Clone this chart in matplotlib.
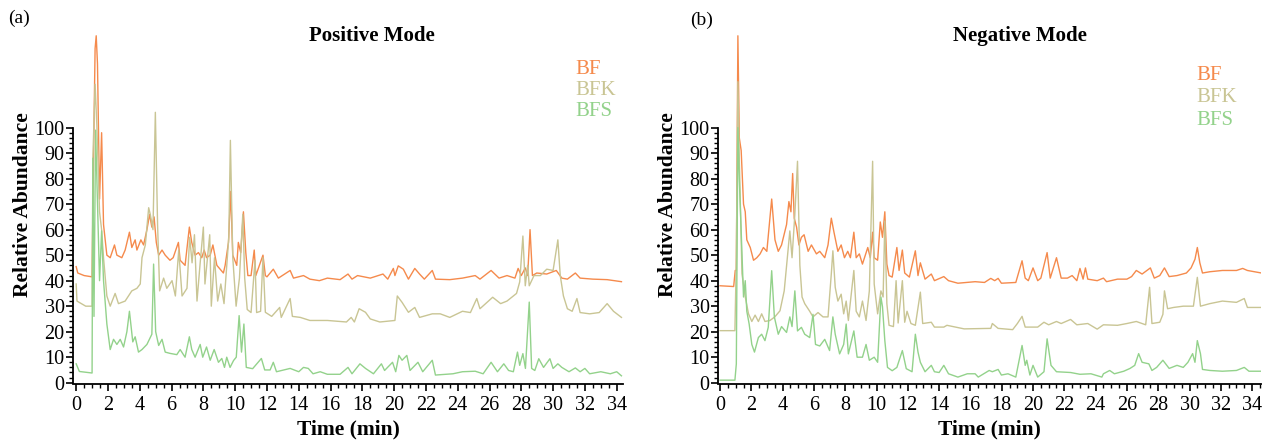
import numpy as np
import matplotlib
matplotlib.use('Agg')
import matplotlib.pyplot as plt
from matplotlib.ticker import FixedLocator

plt.rcParams['font.family'] = 'Liberation Serif'

# (time min, relative abundance)
pos_bf = [[0, 45.5], [0.1, 43], [0.5, 42], [1.0, 41.5], [1.09, 88], [1.19, 131], [1.26, 136], [1.34, 125],
          [1.47, 72], [1.6, 98], [1.72, 62], [1.93, 50], [2.14, 49], [2.41, 54], [2.56, 50], [2.87, 49],
          [3.08, 52], [3.35, 59], [3.5, 53], [3.71, 56], [3.82, 52], [4.07, 56], [4.24, 54], [4.45, 60],
          [4.62, 66], [4.76, 61], [4.9, 65], [5.04, 55], [5.19, 50], [5.4, 52], [5.6, 50], [5.9, 48],
          [6.1, 49], [6.43, 55], [6.54, 48], [6.85, 46], [7.12, 61], [7.27, 55], [7.48, 50], [7.69, 51],
          [7.9, 49], [8.05, 52], [8.2, 49], [8.43, 50], [8.6, 54], [8.85, 46], [9.26, 43], [9.37, 46],
          [9.58, 55], [9.72, 75], [9.85, 50], [10.1, 46], [10.2, 55], [10.35, 51], [10.52, 67], [10.67, 51],
          [10.8, 42], [11.0, 42], [11.2, 52], [11.3, 42], [11.75, 50], [11.9, 42], [12.0, 41.5], [12.4, 44.5],
          [12.72, 41], [13.46, 44], [13.67, 41], [14.3, 42], [14.7, 40.6], [15.3, 40], [15.8, 41],
          [16.6, 40.4], [17.1, 42.6], [17.35, 40.6], [17.7, 42], [18.5, 41], [19.3, 42.6], [19.6, 40.6],
          [19.95, 44.8], [20.05, 42], [20.26, 45.8], [20.58, 44.5], [20.9, 40.6], [21.3, 44.8], [21.6, 42.6],
          [21.9, 40.6], [22.4, 44], [22.6, 40.6], [23.5, 40.4], [24.3, 41], [25.1, 42], [25.4, 40.6],
          [26.1, 44], [26.6, 41], [27.1, 42], [27.6, 41], [27.8, 44.8], [28.0, 42], [28.25, 45], [28.4, 42],
          [28.55, 60], [28.7, 42], [28.97, 43], [29.6, 42.6], [30.2, 44], [30.55, 41], [30.9, 40.6],
          [31.4, 43], [31.7, 41], [32.5, 40.6], [33.4, 40.4], [34.3, 39.6]]

pos_bfk = [[0, 38.7], [0.05, 32], [0.6, 30], [1.0, 30], [1.05, 88], [1.19, 117], [1.3, 101], [1.47, 67],
           [1.6, 60], [1.72, 49], [1.93, 34], [2.14, 30], [2.45, 35], [2.66, 31], [3.08, 32], [3.5, 36],
           [3.82, 37], [4.03, 38.7], [4.14, 49], [4.35, 54], [4.56, 68.6], [4.66, 66], [4.83, 60], [4.98, 106],
           [5.12, 62], [5.25, 36], [5.5, 41], [5.7, 37], [6.03, 40], [6.24, 34], [6.45, 52], [6.66, 34],
           [6.97, 37], [7.14, 57], [7.29, 47], [7.44, 58], [7.6, 32], [7.8, 47], [8.0, 61], [8.1, 38.7],
           [8.4, 58], [8.5, 30], [8.7, 49], [8.9, 32], [9.1, 38.7], [9.3, 31], [9.6, 57], [9.7, 95],
           [9.85, 49], [10.06, 30], [10.27, 41], [10.48, 66], [10.6, 41], [10.76, 28.7], [11.0, 27.5],
           [11.25, 48], [11.35, 27.5], [11.6, 28], [11.75, 49], [11.9, 27.6], [12.3, 26], [12.8, 29.5],
           [12.9, 25.6], [13.46, 33], [13.6, 26], [14.1, 25.6], [14.7, 24.4], [15.8, 24.4], [17.0, 23.8],
           [17.3, 25.6], [17.5, 23.8], [17.8, 29], [18.2, 27.6], [18.5, 25], [19.1, 23.8], [20.05, 24.4],
           [20.2, 34], [20.5, 31.5], [20.9, 27.6], [21.3, 29.5], [21.6, 25.6], [22.4, 27], [22.9, 27],
           [23.5, 25.6], [24.3, 28], [24.8, 27.5], [25.2, 33], [25.4, 29], [26.2, 33.5], [26.7, 31],
           [27.1, 32], [27.7, 35], [27.9, 39.5], [28.1, 57.5], [28.25, 38], [28.4, 46], [28.5, 38],
           [28.8, 42], [29.2, 42], [29.6, 44.5], [30.0, 44], [30.3, 56], [30.45, 42], [30.65, 34], [30.9, 29],
           [31.2, 28], [31.5, 33], [31.7, 27.5], [32.3, 27], [32.9, 27.5], [33.4, 31], [33.8, 28], [34.3, 25.6]]

pos_bfs = [[0, 7.4], [0.2, 4.4], [1.0, 3.8], [1.05, 88], [1.12, 26], [1.22, 99], [1.3, 80], [1.47, 40],
           [1.6, 59.5], [1.72, 40], [1.93, 23], [2.14, 13], [2.35, 17], [2.56, 15], [2.77, 17], [2.98, 14],
           [3.19, 20], [3.35, 28], [3.56, 16], [3.71, 18], [3.92, 12], [4.14, 13], [4.45, 15], [4.76, 19],
           [4.87, 46.5], [5.0, 20], [5.19, 14.6], [5.4, 17], [5.6, 12], [5.9, 11.5], [6.33, 11], [6.54, 13],
           [6.85, 10], [7.12, 18], [7.27, 13], [7.48, 10], [7.8, 15], [7.96, 10], [8.2, 14], [8.43, 8.8],
           [8.68, 13], [8.95, 8], [9.16, 9.5], [9.33, 6], [9.47, 10], [9.68, 6], [9.9, 8.7], [10.07, 10],
           [10.25, 26.3], [10.4, 12], [10.55, 23], [10.7, 6], [11.1, 5.5], [11.65, 9.5], [11.86, 5],
           [12.2, 5], [12.4, 8], [12.6, 4.3], [13.46, 5.6], [14.0, 4.3], [14.3, 6], [14.6, 5.6], [14.9, 3.5],
           [15.35, 4.3], [15.8, 3.3], [16.6, 3.3], [17.1, 6], [17.35, 3.5], [17.85, 7.4], [18.2, 5.6],
           [18.7, 3.5], [19.2, 7.4], [19.4, 4.8], [19.9, 8], [20.1, 4.3], [20.3, 10.7], [20.5, 8.8],
           [20.8, 10.7], [21.0, 4.8], [21.5, 8], [21.8, 4.3], [22.4, 8.8], [22.6, 3], [23.7, 3.5], [24.3, 4.3],
           [25.1, 4.5], [25.6, 3.5], [26.1, 8], [26.5, 4.3], [26.9, 7.4], [27.2, 4.8], [27.5, 4.3],
           [27.76, 12], [27.9, 6.8], [28.1, 11.4], [28.26, 5.6], [28.5, 31.6], [28.65, 5.6], [28.85, 4.8],
           [29.1, 9.4], [29.4, 6], [29.8, 9.4], [30.0, 5.6], [30.3, 7.4], [30.55, 6], [31.0, 4.3], [31.4, 5.8],
           [31.7, 4.3], [32.0, 5.6], [32.3, 3.5], [33.0, 4.3], [33.6, 3.5], [34.0, 4.3], [34.3, 2.7]]

neg_bf = [[0, 38], [0.87, 37.7], [0.97, 44], [1.04, 44], [1.14, 136], [1.23, 96], [1.35, 91], [1.5, 70],
          [1.61, 67], [1.71, 56], [1.93, 53], [2.14, 48], [2.35, 49], [2.56, 50.5], [2.77, 53], [2.99, 51.5],
          [3.3, 72], [3.51, 56], [3.72, 51.5], [3.93, 54], [4.25, 62], [4.4, 71], [4.53, 67], [4.64, 82],
          [4.74, 64.5], [4.89, 61], [5.04, 54], [5.2, 57], [5.37, 58], [5.63, 51.5], [5.84, 54], [6.16, 50.5],
          [6.37, 51.5], [6.69, 49], [6.9, 54], [7.11, 64.5], [7.28, 59], [7.53, 51.5], [7.74, 54], [7.95, 49],
          [8.16, 51.5], [8.33, 49], [8.55, 59], [8.7, 49], [8.9, 50.5], [9.1, 46.5], [9.44, 53], [9.6, 49],
          [9.75, 59], [9.85, 49], [10.07, 48], [10.24, 63], [10.38, 57], [10.53, 67], [10.66, 46.5],
          [10.8, 42], [11.0, 41.4], [11.3, 53], [11.44, 44], [11.65, 52], [11.8, 43], [12.1, 41.4],
          [12.48, 51.7], [12.65, 42], [12.8, 47], [13.1, 40.6], [13.5, 42.6], [13.7, 40], [14.3, 41.6],
          [14.6, 40], [15.2, 39], [16.3, 39.6], [16.9, 39.3], [17.3, 40.9], [17.55, 40], [17.77, 40.9],
          [17.98, 39], [18.9, 39.3], [19.3, 47.8], [19.5, 41], [19.7, 40], [20.0, 45], [20.3, 40], [20.5, 41],
          [20.9, 51], [21.1, 41], [21.5, 49], [21.8, 41], [22.2, 41], [22.5, 42], [22.8, 40], [23.0, 44.8],
          [23.2, 40.6], [23.35, 45], [23.5, 40.6], [24.1, 40], [24.5, 41], [24.7, 39.6], [25.4, 40.6],
          [26.0, 40.6], [26.3, 41.6], [26.6, 44], [26.97, 42.6], [27.5, 45], [27.75, 41], [28.1, 42],
          [28.4, 45], [28.7, 41.6], [29.2, 42], [29.8, 43], [30.1, 45], [30.35, 48.4], [30.5, 53],
          [30.66, 47], [30.83, 43], [31.3, 43.5], [32.1, 44], [33.0, 44], [33.4, 44.8], [33.7, 44], [34.6, 43]]

neg_bfk = [[0, 20.4], [0.95, 20.4], [1.04, 49], [1.14, 118], [1.23, 88], [1.4, 42.7], [1.61, 33.6],
           [1.82, 27], [2.03, 24], [2.24, 26.5], [2.45, 24], [2.66, 27], [2.87, 24], [3.19, 24.4], [3.5, 25.8],
           [3.83, 28.2], [4.1, 36], [4.3, 49], [4.46, 59.5], [4.6, 49], [4.78, 66], [4.95, 86.8], [5.1, 46],
           [5.24, 33.6], [5.41, 31], [5.73, 28], [5.94, 25.8], [6.26, 27.5], [6.58, 25.8], [6.9, 25.8],
           [7.11, 42.7], [7.21, 51.7], [7.36, 37.4], [7.53, 32], [7.74, 34.7], [7.9, 27], [8.06, 32],
           [8.2, 24.4], [8.55, 44], [8.7, 28], [8.9, 25.8], [9.1, 32], [9.33, 24.4], [9.54, 36], [9.75, 86.8],
           [9.85, 38.7], [10.07, 27], [10.28, 36], [10.42, 33.6], [10.53, 63.4], [10.66, 31], [10.8, 22.5],
           [11.08, 22], [11.25, 40], [11.38, 23.4], [11.65, 40], [11.8, 23.7], [11.95, 28], [12.2, 23.2],
           [12.48, 22.5], [12.8, 35.5], [12.95, 23.2], [13.5, 23.7], [13.7, 21.8], [14.3, 21.8], [14.5, 22.5],
           [15.6, 21.1], [17.3, 21.3], [17.4, 23.2], [17.77, 21.3], [18.7, 20.8], [19.0, 23.2], [19.3, 26],
           [19.5, 21.8], [20.3, 21.8], [20.7, 23.7], [21.0, 22.7], [21.5, 24], [21.8, 23.2], [22.4, 24.8],
           [22.8, 22.7], [23.5, 23.2], [24.1, 21], [24.5, 22.7], [25.4, 22.5], [26.0, 23.2], [26.6, 24],
           [27.2, 22.7], [27.45, 37.4], [27.6, 23.2], [28.1, 23.7], [28.3, 26.8], [28.4, 36], [28.6, 29],
           [28.98, 29.5], [29.6, 30], [30.25, 30], [30.5, 41.3], [30.7, 30], [31.3, 31], [32.1, 32],
           [33.0, 31.5], [33.5, 33], [33.7, 29.5], [34.6, 29.5]]

neg_bfs = [[0, 1], [0.95, 1], [1.04, 7.4], [1.14, 100], [1.23, 80], [1.35, 59.5], [1.5, 33.6], [1.61, 40],
           [1.71, 28], [1.86, 23], [2.03, 15], [2.2, 12], [2.45, 17.7], [2.66, 19], [2.87, 16.5], [3.08, 21.7],
           [3.3, 43.9], [3.47, 25.8], [3.72, 19], [3.93, 22], [4.25, 19.7], [4.46, 25.8], [4.6, 22], [4.78, 36],
           [4.95, 20.3], [5.2, 21.7], [5.41, 19], [5.73, 17.7], [5.94, 26.8], [6.1, 15], [6.37, 14.4],
           [6.69, 17], [7.0, 12.6], [7.21, 25.8], [7.36, 19], [7.64, 11.3], [7.9, 15], [8.06, 23], [8.2, 11.3],
           [8.55, 20.3], [8.76, 10], [9.1, 10], [9.33, 15], [9.54, 8.8], [9.85, 10], [10.07, 8], [10.28, 33.6],
           [10.38, 29.8], [10.53, 16.5], [10.7, 6], [11.0, 4.7], [11.3, 6], [11.65, 12.6], [11.9, 5.5],
           [12.27, 4.3], [12.48, 19], [12.65, 12], [12.8, 8], [13.1, 4.3], [13.5, 6.8], [13.7, 4.3], [14.0, 4],
           [14.3, 6.8], [14.6, 3.5], [15.2, 2.2], [15.8, 3.5], [16.3, 3.5], [16.5, 2.2], [17.2, 4.8],
           [17.4, 4.3], [17.77, 5.2], [17.98, 3], [18.4, 3.5], [18.9, 2.2], [19.3, 14.6], [19.5, 6.8],
           [19.6, 8.8], [19.8, 3], [20.0, 6.8], [20.3, 2.2], [20.7, 4.3], [20.9, 17.2], [21.15, 6.8],
           [21.5, 4.3], [22.4, 4], [23.0, 3.3], [23.7, 3.5], [24.4, 2.2], [24.5, 3.5], [24.9, 4.8], [25.2, 3.5],
           [25.8, 4.5], [26.2, 5.6], [26.5, 6.8], [26.75, 11.4], [26.97, 8], [27.4, 7.4], [27.6, 4.8],
           [27.9, 6], [28.3, 8.8], [28.7, 5.6], [29.2, 6.8], [29.6, 6], [29.9, 8], [30.2, 11.4], [30.35, 8],
           [30.5, 16.5], [30.7, 11.4], [30.83, 5.2], [31.3, 4.8], [32.1, 4.5], [33.0, 4.8], [33.5, 6],
           [33.8, 4.5], [34.6, 4.5]]

names = ['BF', 'BFK', 'BFS']
colors = ['#f58a4c', '#c9c594', '#93d28b']

fig = plt.figure(figsize=(12.63, 4.41), dpi=100)
ax1 = fig.add_axes([0.0578, 0.1293, 0.4355, 0.8127])
ax2 = fig.add_axes([0.5685, 0.1293, 0.4303, 0.8127])


def draw(ax, series, xlim):
    for s, c in zip(series, colors):
        d = np.array(s)
        ax.plot(d[:, 0], d[:, 1], color=c, lw=1.0)
    ax.set_xlim(*xlim)
    ax.set_ylim(-0.5, 140)
    ax.spines['top'].set_visible(False)
    ax.spines['right'].set_visible(False)
    ax.spines['left'].set_bounds(0, 100)
    ax.spines['left'].set_linewidth(1.3)
    ax.spines['bottom'].set_linewidth(1.3)
    ax.set_yticks(range(0, 101, 10))
    ax.set_xticks(range(0, 35, 2))
    ax.xaxis.set_minor_locator(FixedLocator(np.arange(0, 34.6, 0.5)))
    ax.yaxis.set_minor_locator(FixedLocator(np.arange(0, 101, 2)))
    ax.tick_params(which='major', length=5, width=1.2, labelsize=14.5)
    ax.tick_params(axis='y', which='major', pad=1)
    ax.tick_params(axis='x', which='major', pad=4)
    ax.tick_params(which='minor', length=3, width=1.0)
    ax.set_xlabel('Time (min)', fontsize=15.5, fontweight='bold', labelpad=3)
    ax.set_ylabel('Relative Abundance', fontsize=15.5, fontweight='bold', labelpad=1)


draw(ax1, [pos_bf, pos_bfk, pos_bfs], (-0.2, 34.4))
draw(ax2, [neg_bf, neg_bfk, neg_bfs], (-0.13, 34.6))

fig.text(372 / 1263, 1 - 36 / 441, 'Positive Mode', fontsize=15, fontweight='bold', ha='center', va='center')
fig.text(1020 / 1263, 1 - 36 / 441, 'Negative Mode', fontsize=15, fontweight='bold', ha='center', va='center')
fig.text(8 / 1263, 1 - 18 / 441, '(a)', fontsize=14, ha='left', va='center')
fig.text(690 / 1263, 1 - 20 / 441, '(b)', fontsize=14, ha='left', va='center')

for i, (n, c) in enumerate(zip(names, colors)):
    fig.text(575 / 1263, 1 - (69 + 21.5 * i) / 441, n, color=c, fontsize=15, ha='left', va='center')
    fig.text(1196 / 1263, 1 - (75 + 22.5 * i) / 441, n, color=c, fontsize=15, ha='left', va='center')

fig.savefig('out.png', dpi=100)
